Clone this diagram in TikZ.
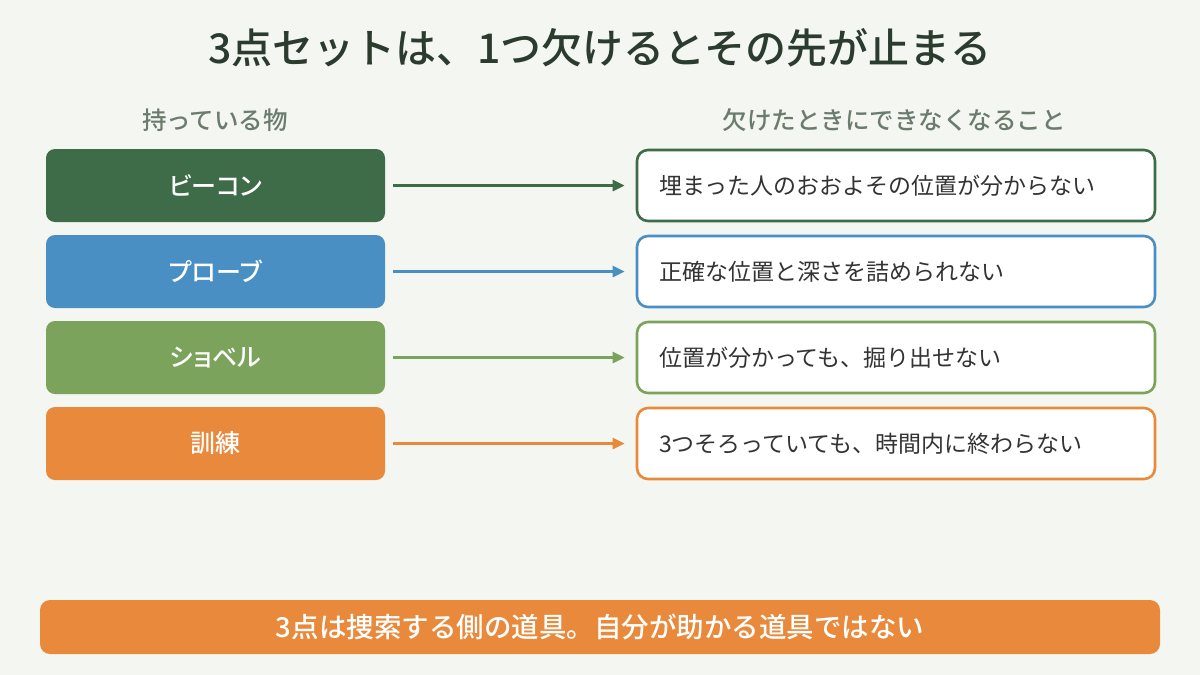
\documentclass[tikz,border=0pt]{standalone}
\usepackage{fontspec}
\setmainfont{Noto Sans CJK JP}
\newfontfamily\jpm{Noto Sans CJK JP Medium}
\newfontfamily\jpmp[RawFeature=+palt]{Noto Sans CJK JP Medium}
\usetikzlibrary{arrows.meta}
\definecolor{bg}{HTML}{F4F6F1}
\definecolor{cbeacon}{HTML}{3E6B48}
\definecolor{cprobe}{HTML}{4A8FC3}
\definecolor{cshovel}{HTML}{7BA35B}
\definecolor{ctrain}{HTML}{E8893B}
\definecolor{ctitle}{HTML}{2B3B2E}
\definecolor{chead}{HTML}{6B7B6C}
\definecolor{ctext}{HTML}{333333}
\tikzset{
  tool/.style={fill=#1, draw=none, rounded corners=9pt, minimum width=339pt, minimum height=73pt,
    inner sep=0pt, text=white, font=\jpmp\fontsize{25pt}{29pt}\selectfont},
  effect/.style={fill=white, draw=#1, line width=2.6pt, rounded corners=11pt, minimum height=71pt,
    text width=474pt, inner xsep=22pt, inner ysep=0pt, align=left, text=ctext,
    font=\fontsize{23pt}{28pt}\selectfont},
  link/.style={draw=#1, line width=2.6pt, -{Triangle[length=12pt,width=11pt]}},
  header/.style={text=chead, font=\jpm\fontsize{24.5pt}{29pt}\selectfont, inner sep=0pt},
}
\begin{document}
\begin{tikzpicture}[x=1pt,y=-1pt]
\fill[bg] (0,0) rectangle (1200,675);
\useasboundingbox (0,0) rectangle (1200,675);
\node[text=ctitle, font=\jpm\fontsize{41pt}{47pt}\selectfont, inner sep=0pt] (title) at (600,48) {3点セットは、1つ欠けるとその先が止まる};
\node[header] (hl) at (215,120) {持っている物};
\node[header] (hr) at (894,120) {欠けたときにできなくなること};
\node[tool=cbeacon] (t1) at (215.5,185.5) {ビーコン};
\node[tool=cprobe]  (t2) at (215.5,271.5) {プローブ};
\node[tool=cshovel] (t3) at (215.5,357.5) {ショベル};
\node[tool=ctrain]  (t4) at (215.5,443.5) {訓練};
\node[effect=cbeacon] (e1) at (896,185.5) {埋まった人のおおよその位置が分からない};
\node[effect=cprobe]  (e2) at (896,271.5) {正確な位置と深さを詰められない};
\node[effect=cshovel] (e3) at (896,357.5) {位置が分かっても、掘り出せない};
\node[effect=ctrain]  (e4) at (896,443.5) {3つそろっていても、時間内に終わらない};
\draw[link=cbeacon] ([xshift=8pt]t1.east) -- ([xshift=-11pt]e1.west);
\draw[link=cprobe]  ([xshift=8pt]t2.east) -- ([xshift=-11pt]e2.west);
\draw[link=cshovel] ([xshift=8pt]t3.east) -- ([xshift=-11pt]e3.west);
\draw[link=ctrain]  ([xshift=8pt]t4.east) -- ([xshift=-11pt]e4.west);
\node[fill=ctrain, rounded corners=10pt, minimum width=1120pt, minimum height=54pt, inner sep=0pt,
  text=white, font=\jpm\fontsize{27.5pt}{31pt}\selectfont] (banner) at (600,627)
  {3点は捜索する側の道具。自分が助かる道具ではない};
\end{tikzpicture}
\end{document}
